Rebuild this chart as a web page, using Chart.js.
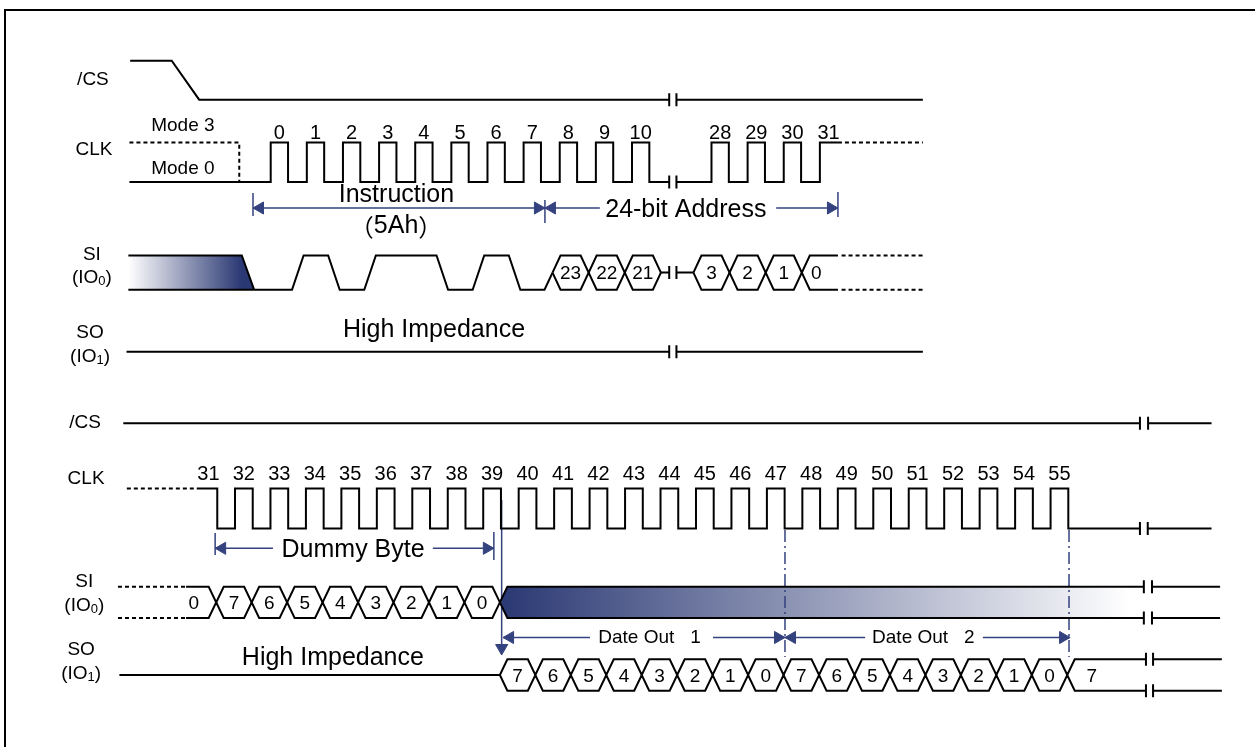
<!DOCTYPE html>
<html>
<head>
<meta charset="utf-8">
<script src="https://cdn.jsdelivr.net/npm/chart.js@4.4.1/dist/chart.umd.min.js"></script>
<style>
  html, body { margin: 0; padding: 0; background: #fff; overflow: hidden; }
  #wrap { position: relative; width: 1255px; height: 747px; }
  #frame { position: absolute; left: 4px; top: 9px; width: 1300px; height: 800px;
           border-left: 2px solid #000; border-top: 2px solid #000; pointer-events: none; }
</style>
</head>
<body>
<div id="wrap"><canvas id="timing" width="1255" height="747"></canvas><div id="frame"></div></div>
<script>
const instructionCycles = [0, 1, 2, 3, 4, 5, 6, 7];
const instructionBits   = [0, 1, 0, 1, 1, 0, 1, 0];           // 5Ah, MSB d'abord
const topClockCycles    = [0, 1, 2, 3, 4, 5, 6, 7, 8, 9, 10, 28, 29, 30, 31];
const addressCyclesA    = [8, 9, 10];
const addressBitsA      = ['23', '22', '21'];
const addressCyclesB    = [28, 29, 30, 31];
const addressBitsB      = ['3', '2', '1', '0'];
const bottomClockCycles = [31, 32, 33, 34, 35, 36, 37, 38, 39, 40, 41, 42, 43, 44, 45, 46, 47, 48, 49, 50, 51, 52, 53, 54, 55];
const dummyCycles       = [32, 33, 34, 35, 36, 37, 38, 39];
const dummyBits         = ['7', '6', '5', '4', '3', '2', '1', '0'];
const dataOutCycles     = [40, 41, 42, 43, 44, 45, 46, 47, 48, 49, 50, 51, 52, 53, 54, 55, 56];
const dataOutBits       = ['7', '6', '5', '4', '3', '2', '1', '0', '7', '6', '5', '4', '3', '2', '1', '0', '7'];

// mise en page
const W = 1255, H = 747;
const TOP = { origin: 270.7, period: 36.13 };              // pixel du cycle 0, pixels par cycle
const BOT = { origin: 235 - 32 * 35.46, period: 35.46 };
const TOP_SKIP = 15.8;                                     // cycles cachés par la coupure
const disp = c => (c > 11.1 ? c - TOP_SKIP : c);
const SLANT_T = 8 / TOP.period, SLANT_B = 7.5 / BOT.period;
const NAVY = '#2a3873', ARROW = '#34427f';

const ROW = {
  tCs:  { hi: 60.7,  lo: 99.7 },
  tClk: { hi: 142.5, lo: 182 },
  tSi:  { hi: 255.5, lo: 289.7 },
  tSo:  { mid: 351.7 },
  bCs:  { mid: 423.3 },
  bClk: { hi: 488.5, lo: 528.5 },
  bSi:  { hi: 586.8, lo: 618 },
  bSo:  { hi: 659.3, lo: 690.7 }
};
const mid = r => (r.hi + r.lo) / 2;

const datasets = [];
const texts = [];
const P = (x, y) => ({ x, y });
const gap = x => ({ x, y: null });
const dotted = { borderDash: [4, 3] };
const dim = { borderColor: ARROW, borderWidth: 1.5 };

function line(ax, data, extra) {
  datasets.push(Object.assign({
    xAxisID: ax, yAxisID: 'y', data,
    borderColor: '#000', borderWidth: 2, pointRadius: 0, pointHoverRadius: 0,
    fill: false, tension: 0, spanGaps: false
  }, extra || {}));
}

function gradient(ax, from, to, c0, c1) {
  return ctx => {
    const chart = ctx.chart, s = chart.scales[ax];
    if (!chart.chartArea || !s) return NAVY;
    const g = chart.ctx.createLinearGradient(s.getPixelForValue(from), 0, s.getPixelForValue(to), 0);
    g.addColorStop(0, c0);
    g.addColorStop(1, c1);
    return g;
  };
}

// bus hexagonal : la cellule du cycle k va de k+phase-1 a k+phase
function bus(ax, row, cycles, labels, o) {
  const s = o.slant, m = mid(row), X = o.map || (c => c);
  const cross = cycles.map(k => X(k + o.phase - 1));
  const openRight = o.openTo !== undefined, openLeft = o.openFrom !== undefined;
  if (!openRight) cross.push(X(cycles[cycles.length - 1] + o.phase));
  const up = [], dn = [];
  if (openLeft) { up.push(P(o.openFrom, row.hi)); dn.push(P(o.openFrom, row.lo)); }
  cross.forEach((c, i) => {
    if (i > 0 || openLeft) { up.push(P(c - s, row.hi)); dn.push(P(c - s, row.lo)); }
    up.push(P(c, m)); dn.push(P(c, m));
    if (i < cross.length - 1 || openRight) { up.push(P(c + s, row.hi)); dn.push(P(c + s, row.lo)); }
  });
  if (openRight) { up.push(P(o.openTo, row.hi)); dn.push(P(o.openTo, row.lo)); }
  line(ax, up);
  line(ax, dn);
  labels.forEach((t, i) => {
    const x = (openRight && i === labels.length - 1) ? cross[i] + o.openLabel : (cross[i] + cross[i + 1]) / 2;
    texts.push({ ax, x, y: m + 1.5, t, size: 19 });
  });
  if (openLeft) texts.push({ ax, x: o.openLabelAt, y: m + 1.5, t: o.leftLabel, size: 19 });
  return cross;
}

function heads(ax, list) {
  datasets.push({
    xAxisID: ax, yAxisID: 'y', data: list.map(h => P(h[0], h[1])), showLine: false,
    pointStyle: 'triangle', pointRadius: 7, pointHoverRadius: 7,
    pointRotation: list.map(h => h[2]),
    pointBackgroundColor: ARROW, pointBorderColor: ARROW, pointBorderWidth: 1
  });
}

function breakBars(ax, xs, ys) {
  const pts = [];
  xs.forEach(x => ys.forEach(y => pts.push(P(x, y - 6.5), P(x, y + 6.5), gap(x))));
  line(ax, pts);
}

// ===== partie haute =====
const TB = [11.03, 11.23], TEND = 18.05;
let r = ROW.tCs;
line('xt', [P(-3.89, r.hi), P(-2.74, r.hi), P(-1.98, r.lo), P(TB[0], r.lo), gap(TB[0]), P(TB[1], r.lo), P(TEND, r.lo)]);

r = ROW.tClk;
line('xt', [P(-3.91, r.hi), P(-0.87, r.hi), P(-0.87, r.lo)], dotted);
const clkTop = [P(-3.91, r.lo)];
topClockCycles.forEach((c, i) => {
  if (i > 0 && c - topClockCycles[i - 1] > 1) clkTop.push(P(TB[0], r.lo), gap(TB[0]), P(TB[1], r.lo));
  const x = disp(c);
  clkTop.push(P(x, r.lo), P(x, r.hi));
  if (i === topClockCycles.length - 1) clkTop.push(P(disp(c + 0.5), r.hi));
  else clkTop.push(P(x + 0.48, r.hi), P(x + 0.48, r.lo));
});
line('xt', clkTop);
line('xt', [P(disp(31.5), r.hi), P(TEND, r.hi)], dotted);
topClockCycles.forEach(c => texts.push({ ax: 'xt', x: disp(c) + 0.24, y: 133.3, t: String(c), size: 20 }));

r = ROW.tSi;
line('xt', [P(-3.94, r.hi), P(-0.8, r.hi), P(-0.46, r.lo)],
     { fill: '+1', backgroundColor: gradient('xt', -3.94, -0.8, '#ffffff', NAVY) });
line('xt', [P(-3.94, r.lo), P(-0.46, r.lo)]);
const lvl = b => (b ? r.hi : r.lo);
const busA0 = disp(addressCyclesA[0] - 0.2);
const inst = [P(-0.46, lvl(instructionBits[0]))];
for (let i = 1; i < instructionBits.length; i++) {
  if (instructionBits[i] !== instructionBits[i - 1]) {
    const t = instructionCycles[i - 1] + 0.75;
    inst.push(P(t - 0.16, lvl(instructionBits[i - 1])), P(t + 0.16, lvl(instructionBits[i])));
  }
}
inst.push(P(busA0 - SLANT_T, r.lo), P(busA0, mid(r)));
line('xt', inst);
const crossA = bus('xt', r, addressCyclesA, addressBitsA, { phase: 0.8, slant: SLANT_T });
const busB0 = disp(addressCyclesB[0] - 0.5);
line('xt', [P(crossA[crossA.length - 1], mid(r)), P(TB[0], mid(r)), gap(TB[0]), P(TB[1], mid(r)), P(busB0, mid(r))]);
bus('xt', r, addressCyclesB, addressBitsB,
    { phase: 0.5, slant: SLANT_T, map: disp, openTo: disp(31.5), openLabel: 0.4 });
line('xt', [P(disp(31.5) + 0.1, r.hi), P(TEND, r.hi)], dotted);
line('xt', [P(disp(31.5) + 0.1, r.lo), P(TEND, r.lo)], dotted);

r = ROW.tSo;
line('xt', [P(-3.99, r.mid), P(TB[0], r.mid), gap(TB[0]), P(TB[1], r.mid), P(TEND, r.mid)]);
breakBars('xt', TB, [ROW.tCs.lo, ROW.tClk.lo, mid(ROW.tSi), ROW.tSo.mid]);

// cotes haut
line('xt', [P(-0.49, 208), P(7.59, 208), P(9.11, 208), gap(9.11), P(13.99, 208), P(15.7, 208)], dim);
line('xt', [P(-0.49, 193), P(-0.49, 216), gap(0), P(7.59, 200), P(7.59, 223), gap(0), P(15.7, 192), P(15.7, 217)], dim);
const hT = 7 / TOP.period;
heads('xt', [[-0.49 + hT, 208, 270], [7.59 - hT, 208, 90], [7.59 + hT, 208, 270], [15.7 - hT, 208, 90]]);

const CJK = '"Noto Sans CJK SC", sans-serif';
texts.push(
  { ax: 'xt', x: -4.92, y: 80, t: '/CS', size: 19 },
  { ax: 'xt', x: -4.89, y: 150, t: 'CLK', size: 19 },
  { ax: 'xt', x: -2.43, y: 126, t: 'Mode 3', size: 19 },
  { ax: 'xt', x: -2.43, y: 168.5, t: 'Mode 0', size: 19 },
  { ax: 'xt', x: -4.95, y: 254.5, t: 'SI', size: 19 },
  { ax: 'xt', x: -4.95, y: 278, parts: [{ t: '(IO', size: 19 }, { t: '0', size: 13, dy: 3.5 }, { t: ')', size: 19 }] },
  { ax: 'xt', x: -5.0, y: 333, t: 'SO', size: 19 },
  { ax: 'xt', x: -5.0, y: 357, parts: [{ t: '(IO', size: 19 }, { t: '1', size: 13, dy: 3.5 }, { t: ')', size: 19 }] },
  { ax: 'xt', x: 3.48, y: 195, t: 'Instruction', size: 25 },
  { ax: 'xt', x: 3.47, y: 226.5, parts: [{ t: '（', size: 24, fam: CJK }, { t: '5Ah', size: 25 }, { t: '）', size: 24, fam: CJK }] },
  { ax: 'xt', x: 11.49, y: 210, t: '24-bit Address', size: 25 },
  { ax: 'xt', x: 4.52, y: 330, t: 'High Impedance', size: 25 }
);

// ===== partie basse =====
r = ROW.bCs;
line('xb', [P(28.85, r.mid), P(57.52, r.mid), gap(57.52), P(57.75, r.mid), P(59.54, r.mid)]);
breakBars('xb', [57.52, 57.75], [r.mid]);

r = ROW.bClk;
line('xb', [P(28.95, r.hi), P(30.92, r.hi)], dotted);
const clkBot = [P(30.92, r.hi)];
bottomClockCycles.forEach((c, i) => {
  if (i > 0) clkBot.push(P(c, r.lo), P(c, r.hi));
  clkBot.push(P(c + 0.5, r.hi), P(c + 0.5, r.lo));
});
clkBot.push(P(57.52, r.lo), gap(57.52), P(57.74, r.lo), P(59.54, r.lo));
line('xb', clkBot);
breakBars('xb', [57.52, 57.74], [r.lo]);
bottomClockCycles.forEach(c => texts.push({ ax: 'xb', x: c + 0.25, y: 474.5, t: String(c), size: 20 }));

r = ROW.bSi;
line('xb', [P(28.7, r.hi), P(30.62, r.hi)], dotted);
line('xb', [P(28.7, r.lo), P(30.62, r.lo)], dotted);
const crossD = bus('xb', r, dummyCycles, dummyBits,
    { phase: 0.47, slant: SLANT_B, openFrom: 30.62, leftLabel: '0', openLabelAt: 30.84 });
const hz = crossD[crossD.length - 1];
line('xb', [P(hz, mid(r)), P(hz + SLANT_B, r.hi), P(57.63, r.hi)],
     { fill: '+1', backgroundColor: gradient('xb', hz, 57.24, NAVY, '#ffffff') });
line('xb', [P(hz, mid(r)), P(hz + SLANT_B, r.lo), P(57.63, r.lo)]);
line('xb', [P(57.86, r.hi), P(59.78, r.hi)]);
line('xb', [P(57.86, r.lo), P(59.78, r.lo)]);
breakBars('xb', [57.63, 57.86], [r.hi, r.lo]);

r = ROW.bSo;
line('xb', [P(28.74, mid(r)), P(dataOutCycles[0] - 0.53, mid(r))]);
bus('xb', r, dataOutCycles, dataOutBits, { phase: 0.47, slant: SLANT_B, openTo: 57.69, openLabel: 0.69 });
line('xb', [P(57.89, r.hi), P(59.83, r.hi)]);
line('xb', [P(57.89, r.lo), P(59.83, r.lo)]);
breakBars('xb', [57.69, 57.89], [r.hi, r.lo]);

// cotes bas
const hB = 7 / BOT.period;
line('xb', [P(31.44, 548.3), P(33.07, 548.3), gap(33.07), P(37.58, 548.3), P(39.3, 548.3)], dim);
line('xb', [P(31.44, 533), P(31.44, 555), gap(0), P(39.3, 532), P(39.3, 560)], dim);
line('xb', [P(39.52, 500), P(39.52, 650)], dim);
line('xb', [P(39.56, 637.5), P(42.01, 637.5), gap(42.01), P(45.48, 637.5), P(47.51, 637.5), P(49.77, 637.5),
            gap(49.77), P(53.09, 637.5), P(55.55, 637.5)], dim);
line('xb', [P(47.51, 530), P(47.51, 657)], Object.assign({ borderDash: [12, 4, 2, 4] }, dim));
line('xb', [P(55.52, 530), P(55.52, 657)], Object.assign({ borderDash: [12, 4, 2, 4] }, dim));
heads('xb', [[31.44 + hB, 548.3, 270], [39.3 - hB, 548.3, 90], [39.52, 648, 180],
             [39.56 + hB, 637.5, 270], [47.51 - hB, 637.5, 90], [47.51 + hB, 637.5, 270], [55.55 - hB, 637.5, 90]]);

texts.push(
  { ax: 'xb', x: 27.77, y: 422.7, t: '/CS', size: 19 },
  { ax: 'xb', x: 27.8, y: 478.3, t: 'CLK', size: 19 },
  { ax: 'xb', x: 27.75, y: 581.7, t: 'SI', size: 19 },
  { ax: 'xb', x: 27.75, y: 605.7, parts: [{ t: '(IO', size: 19 }, { t: '0', size: 13, dy: 3.5 }, { t: ')', size: 19 }] },
  { ax: 'xb', x: 27.66, y: 649.7, t: 'SO', size: 19 },
  { ax: 'xb', x: 27.66, y: 674, parts: [{ t: '(IO', size: 19 }, { t: '1', size: 13, dy: 3.5 }, { t: ')', size: 19 }] },
  { ax: 'xb', x: 35.33, y: 550, t: 'Dummy Byte', size: 25 },
  { ax: 'xb', x: 34.76, y: 657.7, t: 'High Impedance', size: 25 },
  { ax: 'xb', x: 43.69, y: 637.5, t: 'Date Out   1', size: 19 },
  { ax: 'xb', x: 51.41, y: 637.5, t: 'Date Out   2', size: 19 }
);

// textes dessinés par dessus les tracés
const font = (s, fam) => s + 'px ' + (fam || '"Liberation Sans", Arial, "Noto Sans CJK SC", sans-serif');
const textPlugin = {
  id: 'timingText',
  afterDatasetsDraw(chart) {
    const c = chart.ctx;
    c.save();
    c.textBaseline = 'middle';
    c.textAlign = 'left';
    c.fillStyle = '#000';
    texts.forEach(it => {
      const px = chart.scales[it.ax].getPixelForValue(it.x);
      const py = chart.scales.y.getPixelForValue(it.y);
      const parts = it.parts || [{ t: it.t, size: it.size }];
      let w = 0;
      parts.forEach(p => { c.font = font(p.size, p.fam); p.w = c.measureText(p.t).width; w += p.w; });
      let x = px - w / 2;
      parts.forEach(p => { c.font = font(p.size, p.fam); c.fillText(p.t, x, py + (p.dy || 0)); x += p.w; });
    });
    c.restore();
  }
};

new Chart(document.getElementById('timing'), {
  type: 'line',
  data: { datasets },
  options: {
    responsive: false,
    animation: false,
    events: [],
    layout: { padding: 0, autoPadding: false },
    plugins: { legend: { display: false }, tooltip: { enabled: false }, filler: { drawTime: 'beforeDatasetsDraw' } },
    scales: {
      xt: { type: 'linear', axis: 'x', display: false, min: -TOP.origin / TOP.period, max: (W - TOP.origin) / TOP.period },
      xb: { type: 'linear', axis: 'x', display: false, min: -BOT.origin / BOT.period, max: (W - BOT.origin) / BOT.period },
      y:  { type: 'linear', display: false, min: 0, max: H, reverse: true }
    }
  },
  plugins: [textPlugin]
});
</script>
</body>
</html>
